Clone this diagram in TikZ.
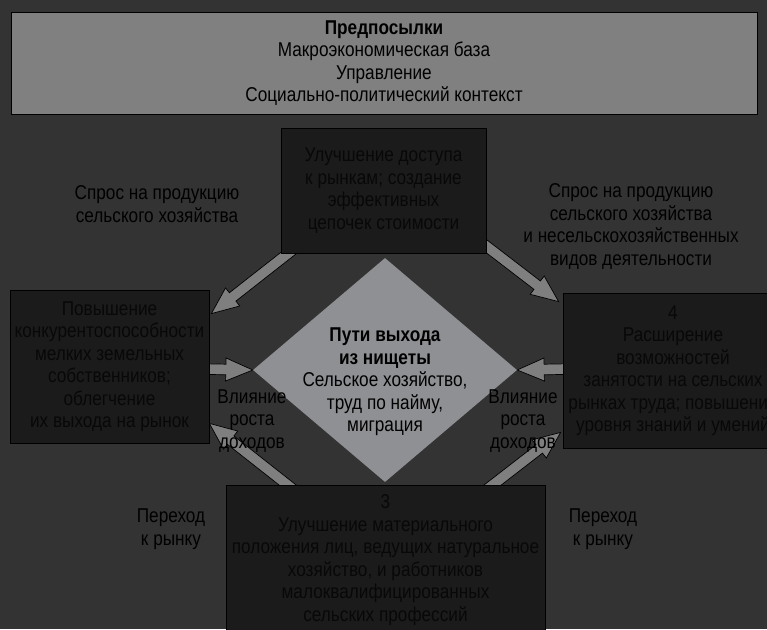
\documentclass[tikz,border=0pt]{standalone}
\usepackage{fontspec}
\setmainfont{Liberation Sans}[FakeStretch=0.86]
\usetikzlibrary{shapes.geometric,calc}
\definecolor{bg}{HTML}{333333}
\definecolor{boxdark}{HTML}{1B1B1B}
\definecolor{topgray}{HTML}{808080}
\definecolor{diamgray}{HTML}{8F9093}
\definecolor{arrgray}{HTML}{7F7F7F}
\definecolor{boxtext}{HTML}{080808}
\pgfdeclarelayer{back}
\pgfdeclarelayer{arr}
\pgfsetlayers{back,arr,main}
\tikzset{
  txt/.style={font=\fontsize{20}{22.5}\selectfont, align=center, inner sep=0pt, text=black},
  darkbox/.style={txt, draw=black, line width=0.8pt, fill=boxdark, text=boxtext},
  topbox/.style={txt, draw=black, line width=0.8pt, fill=topgray},
  arrowstyle/.style={fill=arrgray, draw=black, line width=0.7pt, line join=miter},
}
\newcommand{\blockarrow}[2]{%
  \coordinate (bac) at ($(#2)!27pt!(#1)$);
  \filldraw[arrowstyle] ($(#1)!5.3pt!90:(#2)$) -- ($(bac)!5.3pt!-90:(#1)$) -- ($(bac)!11.5pt!-90:(#1)$) -- (#2) -- ($(bac)!11.5pt!90:(#1)$) -- ($(bac)!5.3pt!90:(#1)$) -- ($(#1)!5.3pt!-90:(#2)$) -- cycle;
}
\begin{document}
\begin{tikzpicture}[x=1pt,y=-1pt]
\useasboundingbox (0,0) rectangle (767,629);
\begin{pgfonlayer}{back}
\fill[bg] (0,0) rectangle (767,629);
\end{pgfonlayer}
\clip (0,0) rectangle (767,629);

\node[topbox, minimum width=746pt, minimum height=102pt] (pre) at (384,63)
  {\textbf{Предпосылки}\\Макроэкономическая база\\Управление\\Социально-политический контекст};

\node[darkbox, minimum width=205pt, minimum height=125pt] (tbox) at (383.5,190.5)
  {Улучшение доступа\\к рынкам; создание\\эффективных\\цепочек стоимости};

\node[darkbox, minimum width=199pt, minimum height=153pt] (lbox) at (109.5,366.5)
  {Повышение\\конкурентоспособности\\мелких земельных\\собственников;\\облегчение\\ их выхода на рынок};

\node[darkbox, minimum width=220pt, minimum height=155pt] (rbox) at (673,370.5)
  {4\\Расширение\\возможностей\\занятости на сельских\\рынках труда; повышение\\уровня знаний и умений};

\node[darkbox, minimum width=319pt, minimum height=150pt] (bbox) at (385.5,560)
  {3\\Улучшение материального\\положения лиц, ведущих натуральное\\хозяйство, и работников\\малоквалифицированных\\сельских профессий};

\node[diamond, fill=diamgray, minimum width=264pt, minimum height=224pt, inner sep=0pt] (diam) at (385,370) {};
\node[txt] (diamtext) at (385,382)
  {\textbf{Пути выхода}\\\textbf{из нищеты}\\Сельское хозяйство,\\труд по найму,\\миграция};

\node[txt] (l1) at (157,204) {Спрос на продукцию\\сельского хозяйства};
\node[txt] (l2) at (631,226.5) {Спрос на продукцию\\сельского хозяйства\\и несельскохозяйственных\\видов деятельности};
\node[txt] (l3) at (252,421) {Влияние\\роста\\доходов};
\node[txt] (l4) at (523,421) {Влияние\\роста\\доходов};
\node[txt] (l5) at (171,529) {Переход\\к рынку};
\node[txt] (l6) at (603,529) {Переход\\к рынку};

\coordinate (a1s) at ([xshift=15.4pt,yshift=6.2pt]tbox.south west);
\coordinate (a1e) at ([xshift=2pt,yshift=-24pt]lbox.north east);
\coordinate (a2s) at ([xshift=-7pt,yshift=12.6pt]tbox.south east);
\coordinate (a2e) at ([xshift=-4pt,yshift=-9pt]rbox.north west);
\coordinate (a3s) at ([xshift=-9pt,yshift=-2.5pt]lbox.east);
\coordinate (a4s) at ([xshift=9pt,yshift=1.5pt]rbox.west);
\coordinate (a5s) at ([xshift=69.4pt,yshift=-6.2pt]bbox.north west);
\coordinate (a5e) at ([yshift=20pt]lbox.south east);
\coordinate (a6s) at ([xshift=-60pt,yshift=-6pt]bbox.north east);
\coordinate (a6e) at ([xshift=-2pt,yshift=16pt]rbox.south west);

\begin{pgfonlayer}{arr}
\blockarrow{a1s}{a1e}
\blockarrow{a2s}{a2e}
\blockarrow{a3s}{diam.west}
\blockarrow{a4s}{diam.east}
\blockarrow{a5s}{a5e}
\blockarrow{a6s}{a6e}
\end{pgfonlayer}
\end{tikzpicture}
\end{document}
